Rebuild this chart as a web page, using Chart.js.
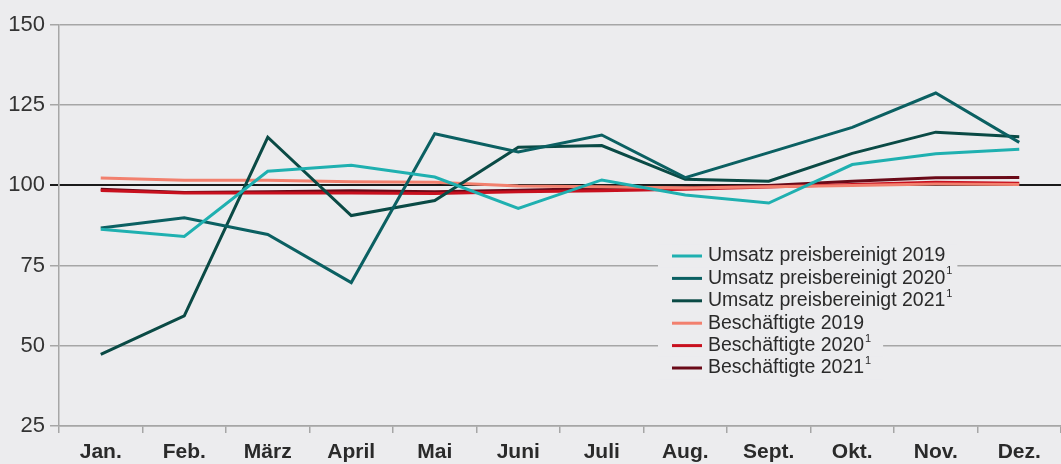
<!DOCTYPE html>
<html>
<head>
<meta charset="utf-8">
<script src="https://cdn.jsdelivr.net/npm/chart.js@4.4.1/dist/chart.umd.min.js"></script>
<style>
  html, body { margin: 0; padding: 0; background: #ececee; }
  canvas { display: block; }
</style>
</head>
<body>
<canvas id="umsatzChart" width="1061" height="464"></canvas>
<script>
// months and index values (100 = reference)
const months = ['Jan.', 'Feb.', 'März', 'April', 'Mai', 'Juni', 'Juli', 'Aug.', 'Sept.', 'Okt.', 'Nov.', 'Dez.'];
const yTicks = [25, 50, 75, 100, 125, 150];

const umsatz2019 = [86.3, 84.1, 104.4, 106.3, 102.6, 92.8, 101.7, 97.0, 94.5, 106.5, 109.9, 111.3];
const umsatz2020 = [86.7, 89.9, 84.7, 69.7, 116.1, 110.4, 115.7, 102.4, 110.2, 118.1, 128.8, 113.4];
const umsatz2021 = [47.3, 59.3, 115.0, 90.6, 95.3, 111.9, 112.4, 101.9, 101.3, 110.0, 116.6, 115.2];
const besch2019 = [102.3, 101.6, 101.6, 101.1, 101.0, 99.8, 99.6, 99.2, 99.6, 100.0, 100.4, 100.3];
const besch2020 = [98.4, 97.6, 97.6, 97.6, 97.5, 98.0, 98.3, 98.8, 99.5, 100.3, 101.0, 100.7];
const besch2021 = [98.8, 97.8, 98.0, 98.3, 98.0, 98.5, 99.0, 99.3, 100.0, 101.3, 102.4, 102.5];

const seriesLabels = ['Umsatz preisbereinigt 2019', 'Umsatz preisbereinigt 2020', 'Umsatz preisbereinigt 2021',
                      'Beschäftigte 2019', 'Beschäftigte 2020', 'Beschäftigte 2021'];
const footnotes = [false, true, true, false, true, true];
const colors = ['#1fb0b0', '#0b6062', '#0a4a45', '#f2806e', '#c8101e', '#6a0a18'];

const bg = '#ececee';
const gridColor = '#a6a6a6';
const legendFont = '19.5px "Liberation Sans", Arial, sans-serif';

// legend drawn by hand so every row can blank out the gridlines behind it
const boxLegend = {
  id: 'boxLegend',
  beforeDatasetsDraw(chart) {
    const ctx = chart.ctx;
    const x0 = 672, textX = 708, rowY = 256, rowH = 22.4;
    ctx.save();
    ctx.font = legendFont;
    ctx.textBaseline = 'middle';
    chart.data.datasets.forEach((ds, i) => {
      const y = rowY + i * rowH;
      let w = ctx.measureText(ds.label).width;
      if (footnotes[i]) w += 7;
      ctx.fillStyle = bg;
      ctx.fillRect(x0 - 14, y - rowH / 2, textX - x0 + 14 + w + 12, rowH);
    });
    chart.data.datasets.forEach((ds, i) => {
      const y = rowY + i * rowH;
      ctx.strokeStyle = ds.borderColor;
      ctx.lineWidth = 3;
      ctx.beginPath();
      ctx.moveTo(x0, y);
      ctx.lineTo(x0 + 30, y);
      ctx.stroke();
      ctx.fillStyle = '#2a2a2a';
      ctx.font = legendFont;
      ctx.fillText(ds.label, textX, y);
      if (footnotes[i]) {
        const w = ctx.measureText(ds.label).width;
        ctx.font = '11px "Liberation Sans", Arial, sans-serif';
        ctx.fillText('1', textX + w + 1, y - 7);
      }
    });
    ctx.restore();
  }
};

const ctx = document.getElementById('umsatzChart').getContext('2d');

new Chart(ctx, {
  type: 'line',
  data: {
    labels: months,
    datasets: [umsatz2019, umsatz2020, umsatz2021, besch2019, besch2020, besch2021].map((d, i) => ({
      label: seriesLabels[i],
      data: d,
      borderColor: colors[i],
      backgroundColor: colors[i],
      borderWidth: 3,
      pointRadius: 0,
      tension: 0,
      fill: false
    }))
  },
  options: {
    responsive: false,
    animation: false,
    layout: { padding: { top: 25, right: 0, left: 0, bottom: 0 } },
    plugins: {
      legend: { display: false },
      tooltip: { enabled: false }
    },
    scales: {
      x: {
        offset: true,
        grid: {
          offset: true,
          drawOnChartArea: false,
          drawTicks: true,
          tickLength: 7,
          color: gridColor,
          lineWidth: 1.5
        },
        border: { display: true, color: gridColor, width: 1.5 },
        ticks: {
          color: '#2a2a2a',
          padding: 7,
          maxRotation: 0,
          autoSkip: false,
          font: { family: '"Liberation Sans", Arial, sans-serif', size: 21, weight: 'bold' }
        },
        afterFit(scale) { scale.height = 38; }
      },
      y: {
        min: 25,
        max: 150,
        afterBuildTicks(scale) { scale.ticks = yTicks.map(v => ({ value: v })); },
        grid: {
          tickLength: 9,
          color: c => c.tick && c.tick.value === 100 ? '#1a1a1a' : gridColor,
          lineWidth: c => c.tick && c.tick.value === 100 ? 2 : 1.5
        },
        border: { display: true, color: gridColor, width: 1.5 },
        ticks: {
          color: '#333333',
          padding: 5,
          font: { family: '"Liberation Sans", Arial, sans-serif', size: 22 }
        },
        afterFit(scale) { scale.width = 59; }
      }
    }
  },
  plugins: [boxLegend]
});
</script>
</body>
</html>
